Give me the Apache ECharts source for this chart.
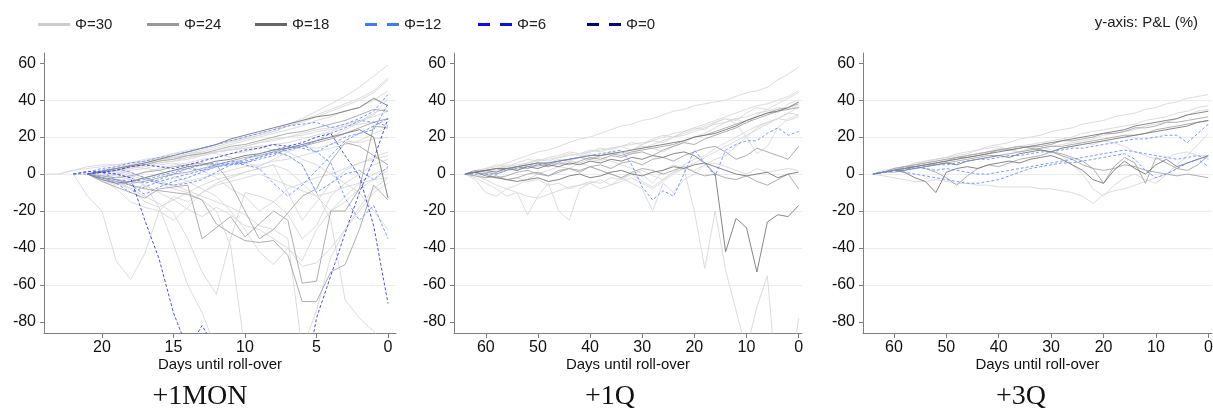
<!DOCTYPE html>
<html><head><meta charset="utf-8">
<script src="https://cdn.jsdelivr.net/npm/echarts@6/dist/echarts.min.js"></script>
<style>html,body{margin:0;padding:0;background:#fff}#c{width:1213px;height:410px}</style>
</head><body><div id="c"></div>
<script>
// ---------- tick labels ----------
const Y_TICKS = [-80,-60,-40,-20,0,20,40,60];
const MON_X_TICKS = [0,5,10,15,20];
const Q_X_TICKS = [0,10,20,30,40,50,60];
const PANEL_TITLES = ['+1MON','+1Q','+3Q'];
const LEGEND_NAMES = ['Φ=30','Φ=24','Φ=18','Φ=12','Φ=6','Φ=0'];

// ---------- +1MON panel: values from start day (length-1) down to day 0 ----------
const MON_PHI30 = [
 [0,0,2,4,5,5,6,8,9,11,13,14,16,18,20,22,24,27,30,34,38,42,47,53,59],
 [0,2,3,4,5,6,7,9,11,12,14,16,18,19,21,23,26,29,32,35,38,41,45,52],
 [0,1,3,4,6,7,9,11,13,15,17,19,21,23,26,28,31,34,37,40,44,51],
 [0,2,3,5,6,8,9,11,12,14,16,18,20,22,24,26,29,31,34,36,40,45],
 [0,-12,-20,-47,-57,-43,-20,-12,-15,-10,-6,-4,-2,0,-3,-6,-9,-12,-10,-7,-5,-3,-2],
 [0,-2,-5,-8,-6,-18,-38,-60,-75,-95,null,null,null,null,null,null,null,null,null,null,null,null],
 [0,-2,-4,-8,-12,-16,-21,-35,-53,-65,-35,-10,-12,-15,-8,-5,-2,0,3,6,9,12],
 [0,1,2,0,-2,-5,-8,-10,-14,-20,-39,-95,null,null,null,null,null,null,null,null,null,null],
 [0,2,3,1,-2,-4,-6,-9,-12,-15,-18,-22,-28,-30,-35,-95,-74,-45,-30,-18,-8,-2],
 [0,1,2,4,3,2,-1,-4,-8,-12,-20,-30,-42,-49,-40,-47,-30,-20,-12,-5,0,3],
 [0,1,2,3,5,6,7,9,10,12,13,14,15,13,10,5,-10,-25,-68,-78,-85,-95],
 [0,2,4,5,7,8,9,10,11,12,13,14,15,16,12,8,5,0,-5,-10,-20,-30],
 [0,-3,-6,-4,-2,0,2,3,5,4,6,8,10,12,13,15,14,16,18,17,19,20],
 [0,-1,-3,-8,-15,-18,-14,-10,-6,-3,-1,1,3,5,-10,-25,-15,-5,2,6,8,10],
 [0,1,2,3,4,6,7,8,10,12,13,15,17,18,20,21,23,24,26,27,28,30],
 [0,-2,-4,-2,1,3,5,6,8,9,11,12,14,16,17,19,21,23,26,28,33,36],
 [0,-3,-8,-15,-18,-20,-25,-18,-10,-5,-2,1,3,5,2,-5,-12,-20,-15,-8,-3,2],
 [0,0,-1,-3,-6,-10,-14,-19,-23,-18,-22,-28,-30,-35,-40,-50,-48,-40,-30,-20,-10,-5],
 [0,1,3,4,5,7,8,9,11,12,14,15,17,19,20,22,24,25,27,29,31,34],
 [0,2,1,-1,-3,-5,-6,-4,-2,0,2,4,5,7,8,10,12,14,16,18,22,25],
 [0,-1,0,2,3,5,6,4,2,-2,-8,-12,-20,-15,-22,-35,-28,-12,-5,0,5,8],
 [0,1,3,5,6,8,9,10,12,11,9,6,4,8,12,15,18,20,24,28,32,41]
];
const MON_PHI24 = [
 [0,-4,-7,-10,-13,-8,-7,-6,-35,-29,-23,-34,-27,-20,-25,-59,-58,-20,-20,-8,26,25],
 [0,-2,-4,-6,-8,-9,-10,-11,-14,-27,-32,-36,-37,-36,-44,-69,-69,-53,-49,-30,-6,-14],
 [0,-1,-2,-1,1,2,4,5,6,5,-5,-20,-35,-30,-21,-12,-8,7,17,15,10,5],
 [0,1,2,4,5,7,8,10,11,13,15,16,18,20,22,23,25,27,29,32,35,34],
 [0,-2,-3,-5,-4,-2,0,1,3,5,7,9,10,12,14,15,17,19,22,25,28,30]
];
const MON_PHI18 = [
 [0,1.5,3,4.5,6,8,10,12,14,16,19,21,23,25,27,29,31,32,34,36,41,37],
 [0,-3,-5,-4,-2,0,2,4,5,7,8,10,11,13,14,16,18,20,22,24,20,-13]
];
const MON_PHI12 = [
 [0,1,3,4,6,7,9,10,12,14,16,18,20,22,24,26,27,28,25,27,30,34,43],
 [0,0,-2,-3,-4,-3,-1,1,3,5,6,5,7,9,11,13,15,18,22,25,29,28,26],
 [0,-2,-5,-10,-7,-4,-2,0,2,4,5,6,8,10,14,16,12,6,-13,-25,-17,-35],
 [0,1,0,-2,-5,-3,0,3,2,5,7,6,9,12,10,5,-10,-5,0,2,-3,4],
 [0,1,-3,-6,-11,-7,-4,-2,1,4,6,5,3,-5,-12,-6,2,10,18,22,24,38],
 [0,2,3,1,-2,-5,-6,-5,-3,1,5,8,11,13,15,14,12,16,20,22,26,30]
];
const MON_PHI6 = [
 [0,1.5,1,0,-2,-25,-46,-75,-95,-82,-95,-120,-120,-120,-120,-120,-120,-78,-55,-32,-10,8,30],
 [0,1,2,4,5,4,3,5,7,9,11,13,14,16,15,17,20,22,10,-1,-28,-70]
];

// ---------- +1Q and +3Q panels: days until roll-over for every value ----------
const Q_DAYS = [64,62,60,58,56,54,52,50,48,46,44,42,40,38,36,34,32,30,28,26,24,22,20,18,16,14,12,10,8,6,4,2,0];

const Q1_PHI30 = [
 [0,1,3,4,6,8,10,12,13,15,17,19,20,22,24,26,27,29,30,32,34,35,37,38,39,40,42,44,45,47,51,54,58],
 [0,1,2,3,4,5,6,7,8,9,10,11,12,13,14,15,16,17,18,20,22,23,25,27,29,31,33,35,37,38,40,42,45],
 [0,2,1,3,5,4,6,8,7,9,11,10,12,14,13,15,17,16,19,21,20,23,25,24,28,30,29,33,36,35,38,41,44],
 [0,-3,-10,-12,-8,-6,-3,0,2,4,3,6,8,7,10,12,11,14,16,18,20,21,23,25,27,28,30,31,33,34,36,35,37],
 [0,-2,-5,-8,-12,-10,-22,-12,-5,-20,-25,-8,-5,-3,-6,-2,0,-4,-7,-3,1,5,8,10,14,17,20,23,26,28,30,33,32],
 [0,1,0,2,3,2,4,5,4,6,7,6,8,9,7,5,3,0,-5,2,5,3,-20,-51,-20,-52,-74,-95,-72,-55,-120,-120,-78],
 [0,1,2,1,3,4,3,5,6,5,7,6,4,2,0,-2,-5,-8,-20,-5,-10,-3,0,5,8,10,15,20,25,28,30,33,36],
 [0,0,-2,-1,-3,-2,-4,-3,-6,-5,-8,-6,-4,-5,-2,-3,0,2,-1,-3,1,3,2,5,6,4,2,0,3,1,2,3,2],
 [0,1,3,2,4,3,5,4,6,8,7,9,11,10,12,11,13,15,14,12,15,17,20,22,25,28,30,27,32,35,33,38,40],
 [0,2,3,5,4,6,8,7,9,10,12,11,13,12,14,15,13,16,18,17,20,22,24,26,28,30,27,20,11,15,25,30,32],
 [0,-1,-3,-6,-8,-10,-12,-13,-11,-9,-7,-6,-5,-8,-6,-4,-2,-5,-8,-4,0,3,6,9,12,15,18,21,24,27,30,29,31]
];
const Q1_PHI24 = [
 [0,1,0,-2,-1,1,2,0,-1,1,3,2,4,5,3,6,7,5,8,9,7,10,12,14,15,12,8,10,14,12,10,8,15],
 [0,-1,-2,-1,-3,-2,0,1,-1,2,3,1,4,2,0,-2,1,3,2,0,2,4,1,-1,0,-2,-3,-1,-4,-6,-3,0,-8],
 [0,1,2,3,2,4,5,6,5,7,8,9,8,10,11,10,12,13,14,15,16,18,20,21,23,25,27,29,31,33,35,36,38],
 [0,2,1,0,2,4,3,5,4,6,5,7,9,8,10,9,11,12,10,13,15,17,16,19,21,23,25,28,30,32,34,35,36]
];
const Q1_PHI18 = [
 [0,1,2,1,3,2,4,3,5,4,6,5,7,6,8,7,9,8,10,9,11,12,10,6,0,-42,-24,-29,-53,-26,-22,-23,-17],
 [0,1,2,3,3,4,5,6,6,7,8,9,10,10,11,12,13,14,15,16,17,18,20,21,22,24,26,29,31,33,34,36,39],
 [0,1,-1,-2,-3,-4,-3,-2,-4,-3,-1,0,-2,-1,1,2,0,-1,1,2,4,3,5,6,4,2,0,-1,0,1,-2,0,1]
];
const Q1_PHI12 = [
 [0,0,0,0,2,3,4,5,6,7,8,9,10,11,12,13,5,-7,-14,-9,-12,0,13,6,-1,13,16,18,18,22,25,21,23]
];

const Q3_PHI30 = [
 [0,1,3,4,5,7,8,9,11,12,13,15,16,17,19,20,21,23,24,25,27,28,29,31,32,33,35,36,38,39,41,42,43],
 [0,1,2,3,4,5,6,7,8,10,11,12,13,14,15,16,17,18,19,20,22,23,24,25,26,27,29,30,31,33,34,36,37],
 [0,1,3,4,5,6,8,9,10,11,13,14,15,13,12,13,14,15,16,17,18,19,21,22,23,24,26,27,28,30,32,34,35],
 [0,-1,-2,-3,-4,-4,-3,-4,-5,-5,-6,-6,-7,-7,-7,-7,-8,-8,-9,-10,-12,-16,-11,-9,-8,-6,-4,-2,0,3,6,8,9],
 [0,1,2,3,5,6,7,8,9,10,11,12,14,13,12,14,15,13,10,5,0,-8,-12,-6,-2,0,-3,-5,0,5,10,16,22],
 [0,2,3,4,6,7,8,9,8,10,11,12,13,14,15,14,13,12,14,15,17,16,18,17,15,12,10,8,9,11,12,10,10]
];
const Q3_PHI24 = [
 [0,1,2,4,4,5,6,7,9,9,10,11,13,13,14,15,15,16,18,18,19,20,22,22,23,25,25,26,28,28,29,30,31],
 [0,1,1,2,4,5,5,6,7,8,9,10,10,11,12,13,14,15,15,16,17,18,19,20,21,21,22,24,25,26,27,28,29],
 [0,1,2,3,4,3,1,-2,-6,-1,3,5,4,6,8,9,10,12,11,9,7,3,-5,4,9,6,-5,9,6,3,2,5,10],
 [0,1,3,4,5,6,7,8,9,10,11,12,13,14,15,14,13,12,10,8,5,3,2,3,5,4,2,1,0,-1,0,-1,-2]
];
const Q3_PHI18 = [
 [0,1,2,3,4,5,6,7,8,9,10,11,12,13,14,15,16,17,18,19,20,21,22,23,24,26,27,28,29,30,32,33,34],
 [0,1,2,2,3,4,5,6,5,7,8,9,10,9,11,12,13,12,14,15,16,17,18,19,20,21,22,23,24,25,26,28,29],
 [0,1,2,1,-2,-4,-10,1,3,4,3,5,6,7,6,8,9,10,8,5,2,-3,-5,2,7,3,0,5,8,4,6,8,10]
];
const Q3_PHI12 = [
 [0,1,2,3,3,4,5,5,6,7,8,8,9,10,10,11,12,12,13,14,14,15,16,17,18,19,19,20,21,21,17,22,27],
 [0,1,2,1,0,-1,-2,-3,-4,-5,-5,-4,-3,-1,1,3,4,5,6,6,7,8,9,10,11,8,2,-2,0,3,6,8,4],
 [0,1,2,3,4,3,2,3,2,1,0,0,1,2,3,4,5,6,7,8,9,10,11,12,13,12,11,10,9,8,9,10,8]
];

// ---------- styles ----------
const LINE_STYLE = {
 'Φ=30': {color:'#d8d8d8', type:'solid', width:0.9},
 'Φ=24': {color:'#a6a6a6', type:'solid', width:0.9},
 'Φ=18': {color:'#787878', type:'solid', width:0.9},
 'Φ=12': {color:'#6a8cff', type:[3,2], width:0.9},
 'Φ=6':  {color:'#3a3ae0', type:[3,2], width:0.9},
 'Φ=0':  {color:'#00008b', type:[3,2], width:0.9}
};
const LEGEND_COLOR = ['#cccccc','#999999','#666666','#3d78ff','#0a0aff','#00008f'];
const LEGEND_LEFT = [38,147,255,365,478,587];
const DASH_ICON = 'path://M0,0h12v3h-12z M22,0h12v3h-12z';

const series = [];
function addLines(name, lines, axisIndex, daysOf) {
  const st = LINE_STYLE[name];
  lines.forEach(vals => {
    series.push({
      type:'line', name, xAxisIndex:axisIndex, yAxisIndex:axisIndex,
      data: vals.map((v,i) => [daysOf(vals,i), v]),
      symbol:'none', silent:true, clip:true,
      lineStyle:{color:st.color, width:st.width, type:st.type},
      itemStyle:{color:st.color}
    });
  });
}
const monDay = (vals,i) => vals.length - 1 - i;
const qDay = (vals,i) => Q_DAYS[i];

addLines('Φ=30', MON_PHI30, 0, monDay);
addLines('Φ=24', MON_PHI24, 0, monDay);
addLines('Φ=18', MON_PHI18, 0, monDay);
addLines('Φ=12', MON_PHI12, 0, monDay);
addLines('Φ=6',  MON_PHI6,  0, monDay);
addLines('Φ=30', Q1_PHI30, 1, qDay);
addLines('Φ=24', Q1_PHI24, 1, qDay);
addLines('Φ=18', Q1_PHI18, 1, qDay);
addLines('Φ=12', Q1_PHI12, 1, qDay);
addLines('Φ=30', Q3_PHI30, 2, qDay);
addLines('Φ=24', Q3_PHI24, 2, qDay);
addLines('Φ=18', Q3_PHI18, 2, qDay);
addLines('Φ=12', Q3_PHI12, 2, qDay);
series.push({type:'line', name:'Φ=0', xAxisIndex:0, yAxisIndex:0, data:[], symbol:'none',
  lineStyle:{color:LINE_STYLE['Φ=0'].color, type:[3,2]}, itemStyle:{color:LINE_STYLE['Φ=0'].color}});

const GRIDS = [
  {left:44, top:53, width:352, height:280, containLabel:false, outerBoundsMode:'none'},
  {left:454, top:53, width:348, height:280, containLabel:false, outerBoundsMode:'none'},
  {left:863, top:53, width:349, height:280, containLabel:false, outerBoundsMode:'none'}
];
const X_RANGES = [[-0.56,24.05],[-0.65,66.1],[-0.7,65.9]];
const X_TICKS = [MON_X_TICKS, Q_X_TICKS, Q_X_TICKS];
const TITLE_X = [200, 610, 1021];
const AX_COLOR = '#808080';
const FONT = "'Liberation Sans', Arial, sans-serif";

const option = {
  animation:false,
  textStyle:{fontFamily:FONT},
  title: [
    {text:'y-axis: P&L (%)', right:15, top:15, padding:0,
     textStyle:{fontFamily:FONT, fontSize:15, fontWeight:'normal', color:'#222'}}
  ].concat(PANEL_TITLES.map((t,i)=>({
     text:t, left:TITLE_X[i], top:383, textAlign:'center', padding:0,
     textStyle:{fontFamily:"'Liberation Serif', 'DejaVu Serif', serif", fontSize:28, fontWeight:'normal', color:'#111'}
  }))),
  legend: LEGEND_NAMES.map((n,i)=>({
     data:[{name:n, icon: i>=3 ? DASH_ICON : 'rect'}],
     left:LEGEND_LEFT[i], top:17, padding:0, itemGap:0,
     itemWidth: i>=3 ? 34 : 32, itemHeight:3,
     selectedMode:false,
     itemStyle:{color:LEGEND_COLOR[i], borderWidth:0},
     textStyle:{fontFamily:FONT, fontSize:15, color:'#222'}
  })),
  grid: GRIDS,
  xAxis: GRIDS.map((g,i)=>({
     type:'value', gridIndex:i, inverse:true, min:X_RANGES[i][0], max:X_RANGES[i][1],
     name:'Days until roll-over', nameLocation:'middle', nameGap:24, nameMoveOverlap:false,
     nameTextStyle:{fontFamily:FONT, fontSize:15, color:'#111'},
     axisLine:{show:true, onZero:false, lineStyle:{color:AX_COLOR, width:1}},
     axisTick:{show:true, length:5, customValues:X_TICKS[i], lineStyle:{color:AX_COLOR}},
     axisLabel:{customValues:X_TICKS[i], fontFamily:FONT, fontSize:16, color:'#111', margin:7},
     splitLine:{show:false}
  })),
  yAxis: GRIDS.map((g,i)=>({
     type:'value', gridIndex:i, min:-86, max:65.5, splitNumber:7,
     axisLine:{show:true, onZero:false, lineStyle:{color:AX_COLOR, width:1}},
     axisTick:{show:true, length:4, customValues:Y_TICKS, lineStyle:{color:AX_COLOR}},
     axisLabel:{customValues:Y_TICKS, fontFamily:FONT, fontSize:16, color:'#111', margin:8},
     splitLine:{show:true, showMinLine:false, showMaxLine:false, lineStyle:{color:'#ececec', width:1}}
  })),
  series
};
const chart = echarts.init(document.getElementById('c'), null, {renderer:'canvas'});
chart.setOption(option);
</script></body></html>
